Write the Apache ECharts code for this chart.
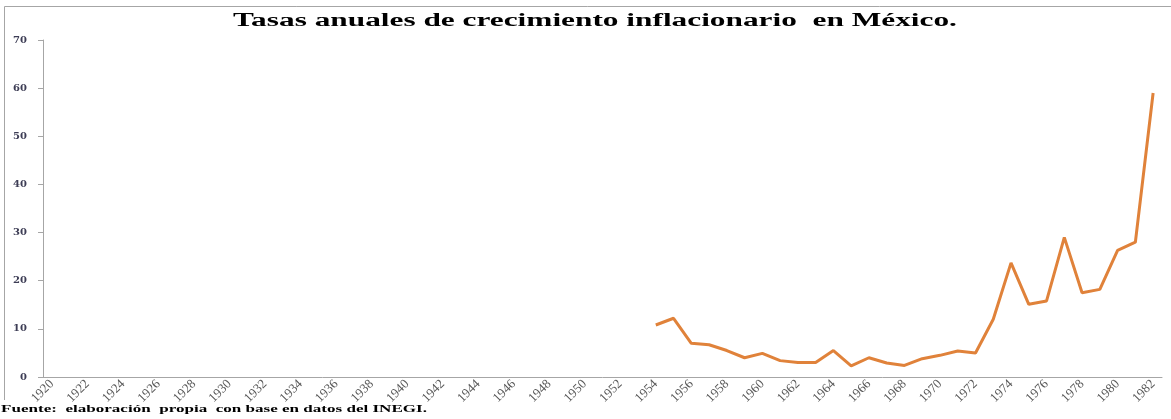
<!DOCTYPE html>
<html>
<head>
<meta charset="utf-8">
<script src="https://cdn.jsdelivr.net/npm/echarts@6/dist/echarts.min.js"></script>
<style>
  html, body { margin: 0; padding: 0; background: #fff; }
  #chart { width: 1171px; height: 419px; }
</style>
</head>
<body>
<div id="chart"></div>
<script>
// años del eje x (1920-1982)
const firstYear = 1920
const lastYear = 1982
const years = []
for (let y = firstYear; y <= lastYear; y++) {
    years.push(String(y))
}
// años con dato y tasa anual (%)
const dataYears = ['1954', '1955', '1956', '1957', '1958', '1959', '1960', '1961', '1962', '1963',
    '1964', '1965', '1966', '1967', '1968', '1969', '1970', '1971', '1972', '1973',
    '1974', '1975', '1976', '1977', '1978', '1979', '1980', '1981', '1982']
const inflation = [10.8, 12.2, 7.0, 6.7, 5.5, 4.0, 4.9, 3.4, 3.0, 3.0,
    5.5, 2.3, 4.0, 2.9, 2.4, 3.8, 4.5, 5.4, 5.0, 12.0,
    23.7, 15.1, 15.8, 29.0, 17.5, 18.2, 26.3, 28.0, 59.0]
const titleText = 'Tasas anuales de crecimiento inflacionario  en México.'
const sourceText = 'Fuente:  elaboración  propia  con base en datos del INEGI.'

// serie completa alineada con las categorías
let values = []
for (let item of years) {
    const i = dataYears.indexOf(item)
    values.push(i === -1 ? null : inflation[i])
}

function initChart(id, option) {
    let chart = echarts.init(document.getElementById(id))
    chart.setOption(option)
}

initChart('chart', {
    animation: false,
    backgroundColor: '#fff',
    grid: { left: 43, right: 9, top: 40, bottom: 42 },
    xAxis: {
        type: 'category',
        data: years,
        boundaryGap: true,
        axisLine: { lineStyle: { color: '#a6a6a6' } },
        axisTick: { interval: 0, lineStyle: { color: '#a6a6a6' }, length: 4 },
        axisLabel: {
            interval: 1,
            rotate: 45,
            margin: 5,
            color: '#595959',
            fontFamily: 'Liberation Serif',
            fontSize: 13
        }
    },
    yAxis: {
        type: 'value',
        min: 0,
        max: 70,
        interval: 10,
        splitLine: { show: false },
        axisLine: { show: true, lineStyle: { color: '#a6a6a6' } },
        axisTick: { show: true, length: 5, lineStyle: { color: '#a6a6a6' } },
        axisLabel: {
            margin: 16,
            color: '#3d3d55',
            fontFamily: 'DejaVu Serif',
            fontWeight: 'bold',
            fontSize: 10
        }
    },
    series: [{
        type: 'line',
        data: values,
        showSymbol: false,
        connectNulls: false,
        lineStyle: { color: '#e0823a', width: 3 }
    }],
    graphic: [
        {
            type: 'polyline',
            shape: { points: [[4.5, 400], [4.5, 6.5], [1171, 6.5]] },
            style: { fill: null, stroke: '#a6a6a6', lineWidth: 1 },
            silent: true
        },
        {
            type: 'text',
            x: 595,
            y: 21,
            scaleX: 1.74,
            style: {
                text: titleText,
                fontFamily: 'Liberation Serif',
                fontWeight: 'bold',
                fontSize: 18,
                fill: '#000',
                align: 'center',
                verticalAlign: 'middle'
            }
        },
        {
            type: 'text',
            x: 1,
            y: 409,
            scaleX: 1.55,
            style: {
                text: sourceText,
                fontFamily: 'Liberation Serif',
                fontWeight: 'bold',
                fontSize: 11,
                fill: '#000',
                align: 'left',
                verticalAlign: 'middle'
            }
        }
    ]
})
</script>
</body>
</html>
